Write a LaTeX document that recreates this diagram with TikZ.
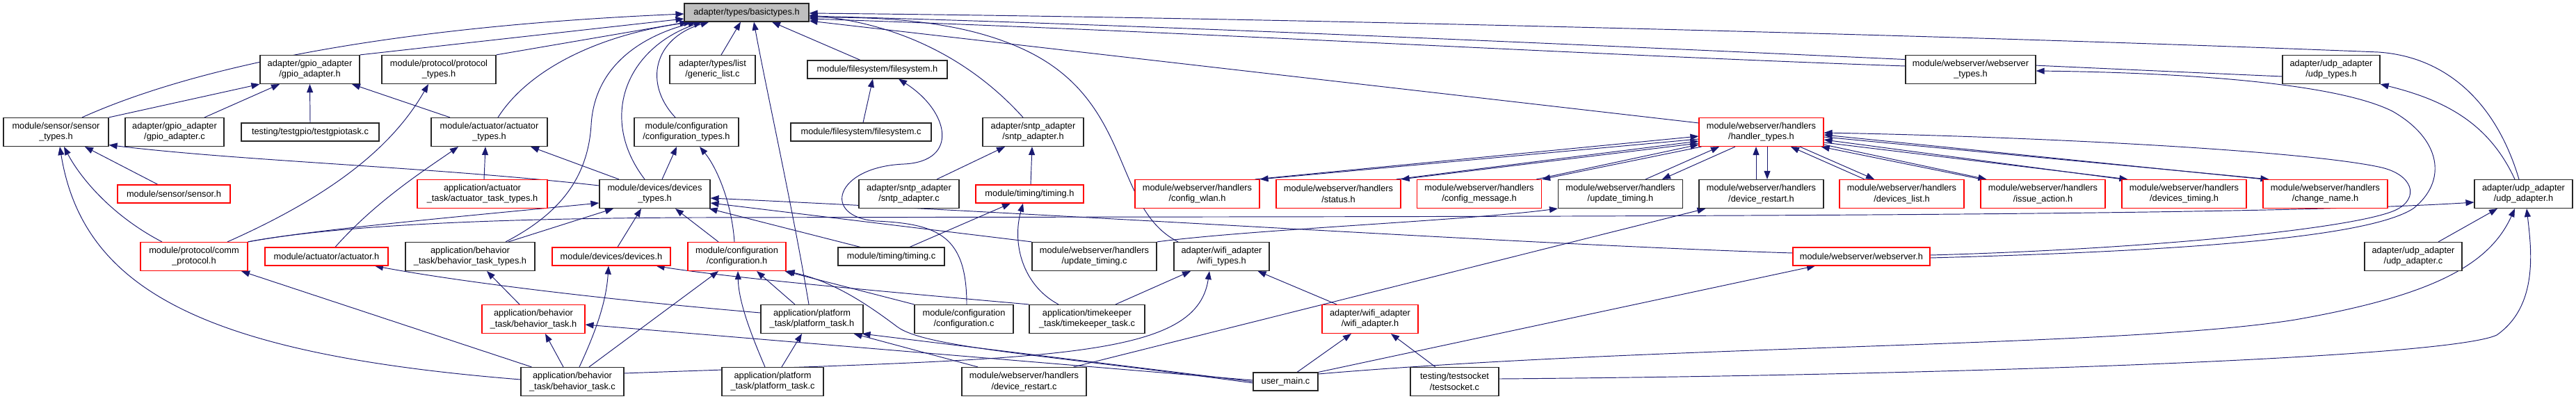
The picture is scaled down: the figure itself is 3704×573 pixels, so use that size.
\documentclass[tikz,border=0pt]{standalone}
\usepackage{fontspec}
\setmainfont{Liberation Sans}
\usetikzlibrary{arrows.meta}
\definecolor{edgec}{RGB}{25,25,112}
\definecolor{boxred}{RGB}{255,0,0}
\definecolor{rootgray}{RGB}{191,191,191}
\newcommand{\fsz}{\fontsize{12.8}{15.3}\selectfont}
\pgfdeclarelayer{bg}
\pgfsetlayers{bg,main}
\tikzset{
  twob/.style={draw=black!85, line width=1.15pt, fill=white, inner sep=0pt, align=center, font=\fsz, minimum height=41pt},
  twor/.style={twob, draw=boxred},
  oneb/.style={twob, minimum height=26pt},
  oner/.style={oneb, draw=boxred},
  rootbox/.style={oneb, fill=rootgray},
  edge/.style={draw=edgec, line width=0.95pt, -{Triangle[length=12pt,width=9pt]}}
}
\begin{document}
\begin{tikzpicture}[x=1pt,y=-1pt]
\begin{pgfonlayer}{bg}
\fill[white] (0,0) rectangle (3704,573);
\end{pgfonlayer}
\useasboundingbox (0,0) rectangle (3704,573);
% row 1
\node[rootbox, minimum width=179pt] (bt) at (1073.5,18) {adapter/types/basictypes.h};
% row 2
\node[twob, minimum width=143pt] (gpioh) at (445.5,100) {adapter/gpio\_adapter\\/gpio\_adapter.h};
\node[twob, minimum width=164pt] (prottypes) at (631,100) {module/protocol/protocol\\\_types.h};
\node[twob, minimum width=123pt] (genlist) at (1024.5,100) {adapter/types/list\\/generic\_list.c};
\node[oneb, minimum width=201pt] (fsh) at (1261.5,100) {module/filesystem/filesystem.h};
\node[twob, minimum width=187pt] (wstypes) at (2833.5,100) {module/webserver/webserver\\\_types.h};
\node[twob, minimum width=140pt] (udptypes) at (3352,100) {adapter/udp\_adapter\\/udp\_types.h};
% row 3
\node[twob, minimum width=151pt] (senstypes) at (80.5,190) {module/sensor/sensor\\\_types.h};
\node[twob, minimum width=142pt] (gpioc) at (251,190) {adapter/gpio\_adapter\\/gpio\_adapter.c};
\node[oneb, minimum width=198pt] (testgpio) at (446,190) {testing/testgpio/testgpiotask.c};
\node[twob, minimum width=167pt] (acttypes) at (703.5,190) {module/actuator/actuator\\\_types.h};
\node[twob, minimum width=150pt] (conftypes) at (987,190) {module/configuration\\/configuration\_types.h};
\node[oneb, minimum width=202pt] (fsc) at (1238,190) {module/filesystem/filesystem.c};
\node[twob, minimum width=145pt] (sntph) at (1485.5,190) {adapter/sntp\_adapter\\/sntp\_adapter.h};
\node[twor, minimum width=179pt] (handtypes) at (2532.5,190) {module/webserver/handlers\\/handler\_types.h};
% row 4
\node[oner, minimum width=162pt] (sensh) at (250,279) {module/sensor/sensor.h};
\node[twor, minimum width=187pt] (acttasktypes) at (693.5,279) {application/actuator\\\_task/actuator\_task\_types.h};
\node[twob, minimum width=159pt] (devtypes) at (941.5,279) {module/devices/devices\\\_types.h};
\node[twob, minimum width=144pt] (sntpc) at (1307,279) {adapter/sntp\_adapter\\/sntp\_adapter.c};
\node[oner, minimum width=155pt] (timingh) at (1480.5,279) {module/timing/timing.h};
\node[twor, minimum width=179pt] (cfgwlan) at (1721.5,279) {module/webserver/handlers\\/config\_wlan.h};
\node[twor, minimum width=179pt] (status) at (1924.5,279) {module/webserver/handlers\\/status.h};
\node[twor, minimum width=179pt] (cfgmsg) at (2127,279) {module/webserver/handlers\\/config\_message.h};
\node[twob, minimum width=179pt] (updtimingh) at (2330,279) {module/webserver/handlers\\/update\_timing.h};
\node[twob, minimum width=179pt] (devrestarth) at (2532.5,279) {module/webserver/handlers\\/device\_restart.h};
\node[twor, minimum width=179pt] (devlist) at (2734.5,279) {module/webserver/handlers\\/devices\_list.h};
\node[twor, minimum width=179pt] (issue) at (2937.5,279) {module/webserver/handlers\\/issue\_action.h};
\node[twor, minimum width=179pt] (devtiming) at (3140.5,279) {module/webserver/handlers\\/devices\_timing.h};
\node[twor, minimum width=179pt] (changename) at (3343.5,279) {module/webserver/handlers\\/change\_name.h};
\node[twob, minimum width=141pt] (udpadh) at (3628.5,279) {adapter/udp\_adapter\\/udp\_adapter.h};
% row 5
\node[twor, minimum width=154pt] (commprot) at (279,369) {module/protocol/comm\\\_protocol.h};
\node[oner, minimum width=177pt] (acth) at (469.5,369) {module/actuator/actuator.h};
\node[twob, minimum width=186pt] (behtasktypes) at (676,369) {application/behavior\\\_task/behavior\_task\_types.h};
\node[oner, minimum width=170pt] (devh) at (879,369) {module/devices/devices.h};
\node[twor, minimum width=141pt] (confh) at (1059.5,369) {module/configuration\\/configuration.h};
\node[oneb, minimum width=153pt] (timingc) at (1281.5,369) {module/timing/timing.c};
\node[twob, minimum width=179pt] (updtimingc) at (1573.5,369) {module/webserver/handlers\\/update\_timing.c};
\node[twob, minimum width=137pt] (wifitypes) at (1756.5,369) {adapter/wifi\_adapter\\/wifi\_types.h};
\node[oner, minimum width=197pt] (wsh) at (2676.5,369) {module/webserver/webserver.h};
\node[twob, minimum width=140pt] (udpadc) at (3470,369) {adapter/udp\_adapter\\/udp\_adapter.c};
% row 6
\node[twor, minimum width=148pt] (behtaskh) at (767,459) {application/behavior\\\_task/behavior\_task.h};
\node[twob, minimum width=147pt] (plattaskh) at (1167.5,459) {application/platform\\\_task/platform\_task.h};
\node[twob, minimum width=142pt] (confc) at (1386,459) {module/configuration\\/configuration.c};
\node[twob, minimum width=166pt] (timekeeper) at (1563,459) {application/timekeeper\\\_task/timekeeper\_task.c};
\node[twor, minimum width=138pt] (wifiadh) at (1970,459) {adapter/wifi\_adapter\\/wifi\_adapter.h};
% row 7
\node[twob, minimum width=148pt] (behtaskc) at (823,549) {application/behavior\\\_task/behavior\_task.c};
\node[twob, minimum width=146pt] (plattaskc) at (1111,549) {application/platform\\\_task/platform\_task.c};
\node[twob, minimum width=179pt] (devrestartc) at (1472.5,549) {module/webserver/handlers\\/device\_restart.c};
\node[oneb, minimum width=93pt] (usermain) at (1848.5,549) {user\_main.c};
\node[twob, minimum width=127pt] (testsocket) at (2091.5,549) {testing/testsocket\\/testsocket.c};

\begin{pgfonlayer}{bg}
% ---- edges into basictypes.h
\draw[edge] ([xshift=37.5pt]senstypes.north) .. controls (260,105) and (520,40) .. ([yshift=-2pt]bt.west);
\draw[edge] (gpioh.north east) -- ([yshift=-9pt]bt.west);
\draw[edge] (prottypes.north east) -- ([xshift=6pt]bt.south west);
\draw[edge] ([xshift=12.5pt]acttypes.north) .. controls (760,100) and (860,50) .. ([xshift=12pt]bt.south west);
\draw[edge] ([xshift=51pt]behtasktypes.north) .. controls (800,310) and (845,260) .. (850,180) .. controls (855,90) and (930,50) .. ([xshift=18pt]bt.south west);
\draw[edge] ([xshift=-14.5pt]devtypes.north) .. controls (860,170) and (900,70) .. ([xshift=26pt]bt.south west);
\draw[edge] ([xshift=-16pt]conftypes.north) .. controls (925,120) and (940,55) .. ([xshift=36pt]bt.south west);
\draw[edge] ([xshift=12.5pt]genlist.north) -- ([xshift=-8.5pt]bt.south);
\draw[edge] ([xshift=-4.5pt]plattaskh.north) .. controls (1140,300) and (1100,120) .. ([xshift=10.5pt]bt.south);
\draw[edge] ([xshift=-24.5pt]fsh.north) -- ([xshift=36.5pt]bt.south);
\draw[edge] ([xshift=-14.5pt]sntph.north) .. controls (1400,90) and (1300,35) .. ([yshift=-4pt]bt.east);
\draw[edge] ([xshift=-62.5pt]wifitypes.north) .. controls (1600,300) and (1630,150) .. (1480,75) .. controls (1380,25) and (1250,25) .. ([yshift=-7pt]bt.east);
\draw[edge] ([xshift=-6.5pt]udpadh.north) .. controls (3590,150) and (3520,82) .. (3420,75) .. controls (2800,50) and (1800,25) .. ([yshift=-1pt]bt.east);
\draw[edge] ([yshift=-10pt]udptypes.west) .. controls (2600,80) and (1800,40) .. ([yshift=-5pt]bt.east);
\draw[edge] ([yshift=5pt]wstypes.west) .. controls (2300,80) and (1700,45) .. ([yshift=-9pt]bt.east);
\draw[edge] ([yshift=-8pt]handtypes.north west) -- ([yshift=-12pt]bt.east);
% ---- left part
\draw[edge] (senstypes.north east) -- (gpioh.south west);
\draw[edge] ([xshift=43pt]gpioc.north) -- ([xshift=-43.5pt]gpioh.south);
\draw[edge] (testgpio.north) -- (gpioh.south);
\draw[edge] ([xshift=-56.5pt]acttypes.north) -- ([xshift=60.5pt]gpioh.south);
\draw[edge] ([xshift=48pt]commprot.north) .. controls (480,280) and (565,210) .. ([xshift=-15pt]prottypes.south);
\draw[edge] ([xshift=-23pt]sensh.north) -- ([xshift=41.5pt]senstypes.south);
\draw[edge] ([xshift=-46pt]commprot.north) .. controls (160,310) and (115,255) .. ([xshift=11.5pt]senstypes.south);
\draw[edge] ([yshift=3pt]behtaskc.west) .. controls (300,510) and (120,420) .. ([xshift=5.5pt]senstypes.south);
\draw[edge] ([yshift=12pt]devtypes.west) .. controls (620,240) and (350,232) .. ([yshift=2.5pt]senstypes.south east);
\draw[edge] ([xshift=2.5pt]acttasktypes.north) -- ([xshift=-5.5pt]acttypes.south);
\draw[edge] ([xshift=-51.5pt]devtypes.north) -- ([xshift=59.5pt]acttypes.south);
\draw[edge] ([xshift=12.5pt]acth.north) .. controls (540,290) and (610,245) .. ([xshift=-44.5pt]acttypes.south);
\draw[edge] (commprot.north east) .. controls (450,330) and (700,308) .. ([yshift=-13pt]devtypes.west);
\draw[edge] (commprot.north east) .. controls (480,325) and (700,314) .. (1000,313) .. controls (2000,311) and (3200,314) .. ([yshift=-12pt]udpadh.west);
\draw[edge] ([xshift=55pt]behtasktypes.north) -- ([xshift=-59.5pt]devtypes.south);
\draw[edge] ([xshift=9pt]devh.north) -- ([xshift=-19.5pt]devtypes.south);
\draw[edge] ([xshift=-26.5pt]confh.north) -- ([xshift=29.5pt]devtypes.south);
\draw[edge] ([xshift=-3.5pt]confh.north) .. controls (1052,290) and (1030,240) .. ([xshift=19pt]conftypes.south);
\draw[edge] ([xshift=10.5pt]devtypes.north) -- ([xshift=-14pt]conftypes.south);
\draw[edge] ([yshift=5pt]wsh.west) .. controls (2200,352) and (1600,312) .. ([yshift=-6pt]devtypes.east);
\draw[edge] (updtimingc.north west) -- ([yshift=-13pt]devtypes.east);
\draw[edge] ([xshift=-44.5pt]timingc.north) -- ([xshift=-2pt]devtypes.south east);
\draw[edge] (updtimingc.north east) .. controls (1800,330) and (2100,318) .. (updtimingh.south west);
\draw[edge] ([xshift=-20pt]behtaskh.north) -- ([xshift=24pt]behtasktypes.south);
\draw[edge] ([xshift=-13pt]behtaskc.north) -- ([xshift=17pt]behtaskh.south);
\draw[edge] ([xshift=10pt]behtaskc.north) .. controls (860,470) and (872,430) .. ([xshift=-4pt]devh.south);
\draw[edge] ([xshift=24pt]behtaskc.north) -- ([xshift=-26.5pt]confh.south);
\draw[edge] ([xshift=-11pt]plattaskc.north) .. controls (1075,470) and (1062,430) .. ([xshift=1.5pt]confh.south);
\draw[edge] ([xshift=-24.5pt]plattaskh.north) -- ([xshift=28.5pt]confh.south);
\draw[edge] ([xshift=13pt]plattaskc.north) -- ([xshift=-14.5pt]plattaskh.south);
\draw[edge] ([yshift=9pt]plattaskh.west) .. controls (800,425) and (620,398) .. ([xshift=69.5pt]acth.south);
\draw[edge] ([xshift=16pt]behtaskc.north west) -- ([xshift=68pt]commprot.south);
\draw[edge] ([yshift=2pt]usermain.west) -- ([yshift=-8pt]behtaskh.east);
\draw[edge] (usermain.west) -- ([xshift=-2pt]plattaskh.south east);
\draw[edge] ([xshift=-66.5pt]devrestartc.north) -- ([xshift=-14pt]plattaskh.south east);
\draw[edge] ([yshift=-2pt]usermain.west) .. controls (1500,510) and (1330,500) .. (1290,470) .. controls (1250,440) and (1200,405) .. (confh.south east);
\draw[edge] (confc.north west) -- ([xshift=-2pt]confh.south east);
\draw[edge] ([xshift=4pt]confc.north) .. controls (1390,340) and (1350,322) .. (1260,318) .. controls (1180,312) and (1200,240) .. (1300,236) .. controls (1380,232) and (1365,160) .. ([xshift=30.5pt]fsh.south);
\draw[edge] ([xshift=3pt]fsc.north) -- ([xshift=-6.5pt]fsh.south);
\draw[edge] (timekeeper.north west) .. controls (1300,422) and (1050,400) .. ([xshift=-21pt]devh.south east);
\draw[edge] ([xshift=-41pt]timekeeper.north) .. controls (1470,410) and (1455,350) .. ([xshift=-9.5pt]timingh.south);
\draw[edge] ([xshift=26.5pt]timingc.north) -- ([xshift=-27.5pt]timingh.south);
\draw[edge] ([xshift=1.5pt]timingh.north) -- ([xshift=-1.5pt]sntph.south);
\draw[edge] ([xshift=40pt]sntpc.north) -- ([xshift=-40.5pt]sntph.south);
\draw[edge] ([xshift=41pt]timekeeper.north) -- ([xshift=-44.5pt]wifitypes.south);
\draw[edge] ([xshift=-48pt]wifiadh.north) -- ([xshift=-17pt]wifitypes.south east);
\draw[edge] ([yshift=12pt]behtaskc.east) .. controls (1500,515) and (1720,520) .. ([xshift=-17.5pt]wifitypes.south);
\draw[edge] ([xshift=16.5pt]usermain.north) -- ([xshift=-27pt]wifiadh.south);
\draw[edge] ([xshift=-27.5pt]testsocket.north) -- ([xshift=30pt]wifiadh.south);
\draw[edge] ([xshift=-19pt]devrestartc.north east) -- ([xshift=10pt]devrestarth.south west);
\draw[edge] (usermain.north east) -- ([xshift=-66.5pt]wsh.south);
\draw[edge] ([yshift=11pt]usermain.east) .. controls (2400,495) and (3050,500) .. (3300,460) .. controls (3500,425) and (3580,380) .. ([xshift=-12.5pt]udpadh.south);
\draw[edge] ([yshift=4pt]testsocket.east) .. controls (2800,540) and (3520,515) .. (3590,482) .. controls (3650,440) and (3640,360) .. ([xshift=4.5pt]udpadh.south);
\draw[edge] ([xshift=36pt]udpadc.north) -- ([xshift=-37.5pt]udpadh.south);
\draw[edge] ([xshift=-12.5pt]udpadh.north) .. controls (3580,180) and (3520,145) .. (udptypes.south east);
\draw[edge] ([yshift=-2pt]wsh.east) .. controls (3100,362) and (3400,345) .. (3470,300) .. controls (3520,260) and (3510,200) .. (3440,160) .. controls (3350,115) and (3100,104) .. ([yshift=-2pt]wstypes.east);
\draw[edge] ([yshift=2pt]wsh.east) .. controls (3100,358) and (3390,328) .. (3445,302) .. controls (3480,285) and (3470,250) .. (3420,240) .. controls (3300,215) and (2900,196) .. ([yshift=-1pt]handtypes.east);
% ---- handler pairs
\draw[edge] ([xshift=-7pt]cfgwlan.north east) -- ([yshift=-6pt]handtypes.west);
\draw[edge] ([yshift=-10pt]handtypes.west) -- (cfgwlan.north east);
\draw[edge] ([xshift=-7pt]status.north east) -- ([yshift=-13pt]handtypes.west);
\draw[edge] ([yshift=-16pt]handtypes.west) -- (status.north east);
\draw[edge] ([xshift=-8pt]cfgmsg.north east) -- ([yshift=-18pt]handtypes.west);
\draw[edge] ([xshift=4pt]handtypes.south west) -- (cfgmsg.north east);
\draw[edge] ([xshift=36pt]updtimingh.north) -- ([xshift=-60.5pt]handtypes.south);
\draw[edge] ([xshift=-37.5pt]handtypes.south) -- ([xshift=60pt]updtimingh.north);
\draw[edge] ([xshift=-7.5pt]devrestarth.north) -- ([xshift=-7.5pt]handtypes.south);
\draw[edge] ([xshift=8.5pt]handtypes.south) -- ([xshift=8.5pt]devrestarth.north);
\draw[edge] ([xshift=-53.5pt]devlist.north) -- ([xshift=42.5pt]handtypes.south);
\draw[edge] ([xshift=55.5pt]handtypes.south) -- ([xshift=-39.5pt]devlist.north);
\draw[edge] ([xshift=2pt]issue.north west) -- ([xshift=-4pt]handtypes.south east);
\draw[edge] ([yshift=3pt]handtypes.south east) -- ([xshift=9pt]issue.north west);
\draw[edge] ([xshift=2pt]devtiming.north west) -- ([yshift=-11pt]handtypes.east);
\draw[edge] ([yshift=-15pt]handtypes.east) -- ([xshift=9pt]devtiming.north west);
\draw[edge] ([xshift=2pt]changename.north west) -- ([yshift=-4pt]handtypes.east);
\draw[edge] ([yshift=-7pt]handtypes.east) -- ([xshift=9pt]changename.north west);
\end{pgfonlayer}
\end{tikzpicture}
\end{document}
